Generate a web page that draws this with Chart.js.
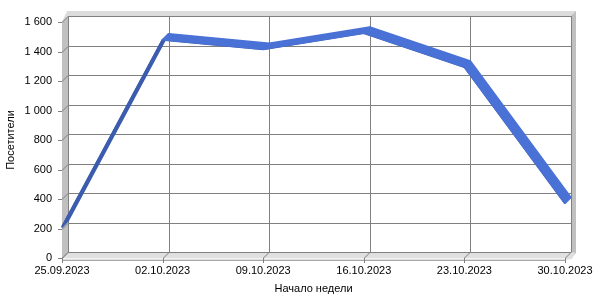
<!DOCTYPE html>
<html>
<head>
<meta charset="utf-8">
<script src="https://cdn.jsdelivr.net/npm/chart.js@4"></script>
<style>
  body { margin: 0; background: #fff; }
  #wrap { width: 600px; height: 300px; }
</style>
</head>
<body>
<div id="wrap"><canvas id="chart"></canvas></div>
<script>
const weekLabels = ['25.09.2023', '02.10.2023', '09.10.2023', '16.10.2023', '23.10.2023', '30.10.2023'];
const visitors = [210, 1480, 1415, 1525, 1295, 370];
const yTicks = [0, 200, 400, 600, 800, 1000, 1200, 1400, 1600];

// depth of the pseudo 3D box (back plane offset)
const DX = 6, DY = -6;

const fmt = v => String(v).replace(/\B(?=(\d{3})+(?!\d))/g, ' ');

const box3d = {
  id: 'box3d',
  beforeDatasetsDraw(chart) {
    const { ctx, chartArea: a, scales } = chart;
    const L = a.left, R = a.right, T = a.top, B = a.bottom;
    ctx.save();

    // top strip
    ctx.fillStyle = '#dcdcdc';
    ctx.beginPath();
    ctx.moveTo(L, T); ctx.lineTo(L + 5, T - 11); ctx.lineTo(R + 11, T - 11);
    ctx.lineTo(R + 11, T - 6); ctx.lineTo(L + DX, T + DY); ctx.closePath();
    ctx.fill();

    // right strip
    ctx.fillStyle = '#c0c0c0';
    ctx.beginPath();
    ctx.moveTo(R + DX, T + DY); ctx.lineTo(R + 11, T - 11); ctx.lineTo(R + 11, B - 5);
    ctx.lineTo(R + 6, B + 1); ctx.lineTo(R + DX, B + DY); ctx.closePath();
    ctx.fill();

    // left wall
    ctx.beginPath();
    ctx.moveTo(L, T); ctx.lineTo(L + DX, T + DY); ctx.lineTo(L + DX, B + DY); ctx.lineTo(L, B);
    ctx.closePath();
    ctx.fill();

    // floor
    ctx.fillStyle = '#e0e0e0';
    ctx.beginPath();
    ctx.moveTo(L, B); ctx.lineTo(L + DX, B + DY); ctx.lineTo(R + DX, B + DY);
    ctx.lineTo(R + 11, B - 5); ctx.lineTo(R + 6, B + 1); ctx.lineTo(R, B + 2); ctx.lineTo(L, B + 2);
    ctx.closePath();
    ctx.fill();
    ctx.strokeStyle = '#f4f4f4';
    ctx.lineWidth = 1;
    ctx.beginPath(); ctx.moveTo(L, B + 0.5); ctx.lineTo(R + 1, B + 0.5); ctx.stroke();
    ctx.strokeStyle = '#a8a8a8';
    ctx.beginPath(); ctx.moveTo(L, B + 2.5); ctx.lineTo(R, B + 2.5); ctx.stroke();

    // grid on back wall + 3D ticks
    ctx.strokeStyle = '#808080';
    ctx.lineWidth = 1;
    yTicks.forEach(v => {
      const y = Math.round(scales.y.getPixelForValue(v)) + 0.5;
      ctx.beginPath();
      ctx.moveTo(L - 4, y); ctx.lineTo(L, y); ctx.lineTo(L + DX, y + DY); ctx.lineTo(R + DX, y + DY);
      ctx.stroke();
    });
    weekLabels.forEach((_, i) => {
      const x = Math.round(scales.x.getPixelForValue(i)) + 0.5;
      ctx.beginPath();
      ctx.moveTo(x, B + 5); ctx.lineTo(x, B); ctx.lineTo(x + DX, B + DY); ctx.lineTo(x + DX, T + DY);
      ctx.stroke();
    });
    ctx.restore();
  },
  afterDatasetsDraw(chart) {
    const { ctx } = chart;
    const pts = chart.getDatasetMeta(0).data;
    ctx.save();
    ctx.lineJoin = 'round';
    for (let i = 0; i < pts.length - 1; i++) {
      const p0 = pts[i], p1 = pts[i + 1];
      const dx = p1.x - p0.x, dy = p1.y - p0.y;
      const under = (dx * DY - dy * DX) > 0;
      const c = under ? '#3c5cae' : '#4a72d6';
      ctx.fillStyle = c;
      ctx.strokeStyle = c;
      ctx.lineWidth = 1.5;
      ctx.beginPath();
      ctx.moveTo(p0.x, p0.y); ctx.lineTo(p1.x, p1.y);
      ctx.lineTo(p1.x + DX, p1.y + DY); ctx.lineTo(p0.x + DX, p0.y + DY);
      ctx.closePath();
      ctx.fill();
      ctx.stroke();
    }
    ctx.restore();
  }
};

const font = { family: '"Liberation Sans", Arial, sans-serif', size: 11 };

new Chart(document.getElementById('chart'), {
  type: 'line',
  data: {
    labels: weekLabels,
    datasets: [{
      label: 'Посетители',
      data: visitors,
      borderColor: '#3c5cae',
      borderWidth: 2,
      pointRadius: 0,
      tension: 0
    }]
  },
  options: {
    responsive: true,
    maintainAspectRatio: false,
    animation: false,
    layout: { padding: { left: 0, right: 35, top: 22, bottom: 0 } },
    plugins: { legend: { display: false }, tooltip: { enabled: false } },
    scales: {
      x: {
        offset: false,
        grid: { display: false, drawTicks: false },
        border: { display: false },
        ticks: { color: '#000', font, padding: 6, maxRotation: 0, autoSkip: false },
        title: { display: true, text: 'Начало недели', color: '#000', font },
        afterFit(s) { s.height = 42; s.paddingLeft = 0; s.paddingRight = 0; }
      },
      y: {
        min: 0,
        max: 1600,
        grid: { display: false, drawTicks: false },
        border: { display: false },
        ticks: { stepSize: 200, color: '#000', font, padding: 10, callback: v => fmt(v) },
        title: { display: true, text: 'Посетители', color: '#000', font },
        afterFit(s) { s.width = 62; s.paddingTop = 0; s.paddingBottom = 0; }
      }
    }
  },
  plugins: [box3d]
});
</script>
</body>
</html>
